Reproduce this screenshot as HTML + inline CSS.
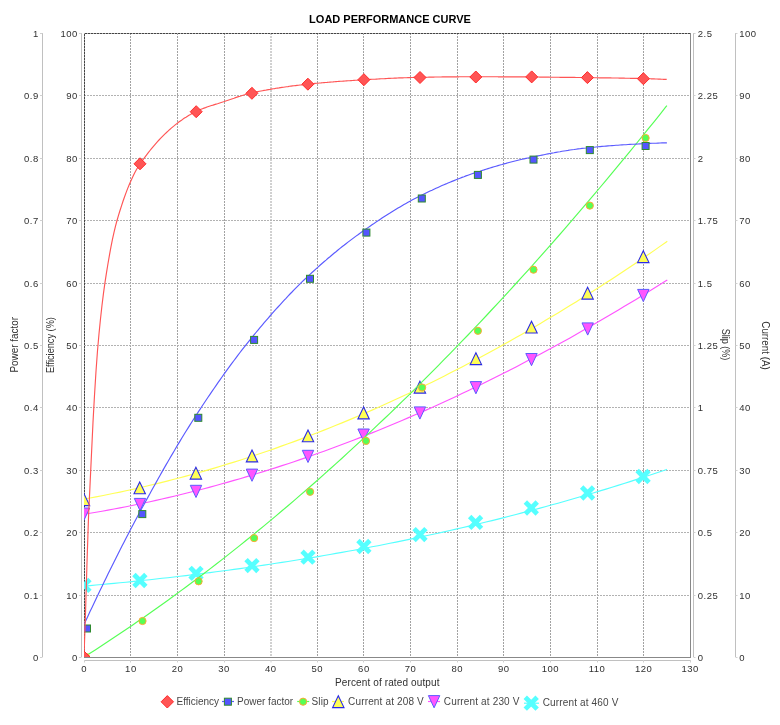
<!DOCTYPE html>
<html><head><meta charset="utf-8"><style>
html,body{margin:0;padding:0;background:#fff;}
svg{display:block;font-family:"Liberation Sans",sans-serif;will-change:transform;}
</style></head><body>
<svg width="780" height="725" viewBox="0 0 780 725">
<rect width="780" height="725" fill="#fff"/>
<text x="390" y="23" text-anchor="middle" font-size="11" font-weight="bold" fill="#000">LOAD PERFORMANCE CURVE</text>
<rect x="84.5" y="33.5" width="606" height="624" fill="#fff" stroke="#888" stroke-width="1"/>
<path d="M84.5,33 L84.5,657 M130.5,33 L130.5,657 M177.5,33 L177.5,657 M224.5,33 L224.5,657 M271.0,33 L271.0,657 M317.5,33 L317.5,657 M363.5,33 L363.5,657 M410.5,33 L410.5,657 M457.5,33 L457.5,657 M503.5,33 L503.5,657 M550.5,33 L550.5,657 M597.5,33 L597.5,657 M643.5,33 L643.5,657" stroke="#a2a2a2" stroke-width="1" stroke-dasharray="2,1" fill="none"/>
<path d="M84,595.5 L690,595.5 M84,532.5 L690,532.5 M84,470.5 L690,470.5 M84,407.5 L690,407.5 M84,345.5 L690,345.5 M84,283.5 L690,283.5 M84,220.5 L690,220.5 M84,158.5 L690,158.5 M84,95.5 L690,95.5 M84,33.5 L690,33.5" stroke="#b2b2b2" stroke-width="1" stroke-dasharray="2,1" fill="none"/>
<path d="M84.5,657 L84.5,33.5 L690,33.5" stroke="#444" stroke-width="1" stroke-dasharray="2,1" fill="none"/>
<defs><clipPath id="pc"><rect x="84" y="33" width="606" height="624"/></clipPath></defs>
<g clip-path="url(#pc)">
<path d="M84.0,586.1 90.0,585.6 96.0,585.0 102.0,584.5 108.0,583.9 114.0,583.4 120.0,582.8 126.0,582.2 132.0,581.6 138.0,580.9 144.0,580.3 150.0,579.7 156.0,579.0 162.0,578.3 168.0,577.7 174.0,577.0 180.0,576.3 186.0,575.6 192.0,574.8 198.0,574.1 204.0,573.3 210.0,572.6 216.0,571.8 222.0,571.0 228.0,570.2 234.0,569.4 240.0,568.6 246.0,567.7 252.0,566.9 258.0,566.0 264.0,565.1 270.0,564.2 276.0,563.3 282.0,562.4 288.0,561.5 294.0,560.5 300.0,559.5 306.0,558.6 312.0,557.6 318.0,556.6 324.0,555.5 330.0,554.5 336.0,553.4 342.0,552.4 348.0,551.3 354.0,550.2 360.0,549.1 366.0,548.0 372.0,546.8 378.0,545.7 384.0,544.5 390.0,543.3 396.0,542.1 402.0,540.9 408.0,539.6 414.0,538.4 420.0,537.1 426.0,535.8 432.0,534.5 438.0,533.2 444.0,531.9 450.0,530.5 456.0,529.1 462.0,527.8 468.0,526.4 474.0,524.9 480.0,523.5 486.0,522.0 492.0,520.6 498.0,519.1 504.0,517.6 510.0,516.0 516.0,514.5 522.0,512.9 528.0,511.3 534.0,509.7 540.0,508.1 546.0,506.5 552.0,504.8 558.0,503.2 564.0,501.5 570.0,499.8 576.0,498.0 582.0,496.3 588.0,494.5 594.0,492.7 600.0,490.9 606.0,489.1 612.0,487.2 618.0,485.4 624.0,483.5 630.0,481.6 636.0,479.6 642.0,477.7 648.0,475.7 654.0,473.7 660.0,471.7 666.0,469.7 666.9,469.4" stroke="#55ffff" fill="none" stroke-width="1.15" stroke-linejoin="round"/>
<path d="M78.05,579.45 L89.95,591.35 M78.05,591.35 L89.95,579.45" stroke="#55ffff" stroke-width="4.80" fill="none" stroke-linecap="butt"/>
<path d="M133.95,574.55 L145.85,586.45 M133.95,586.45 L145.85,574.55" stroke="#55ffff" stroke-width="4.80" fill="none" stroke-linecap="butt"/>
<path d="M190.05,567.35 L201.95,579.25 M190.05,579.25 L201.95,567.35" stroke="#55ffff" stroke-width="4.80" fill="none" stroke-linecap="butt"/>
<path d="M246.05,559.65 L257.95,571.55 M246.05,571.55 L257.95,559.65" stroke="#55ffff" stroke-width="4.80" fill="none" stroke-linecap="butt"/>
<path d="M302.05,551.25 L313.95,563.15 M302.05,563.15 L313.95,551.25" stroke="#55ffff" stroke-width="4.80" fill="none" stroke-linecap="butt"/>
<path d="M357.95,540.55 L369.85,552.45 M357.95,552.45 L369.85,540.55" stroke="#55ffff" stroke-width="4.80" fill="none" stroke-linecap="butt"/>
<path d="M414.05,528.65 L425.95,540.55 M414.05,540.55 L425.95,528.65" stroke="#55ffff" stroke-width="4.80" fill="none" stroke-linecap="butt"/>
<path d="M469.65,516.45 L481.55,528.35 M469.65,528.35 L481.55,516.45" stroke="#55ffff" stroke-width="4.80" fill="none" stroke-linecap="butt"/>
<path d="M525.35,502.05 L537.25,513.95 M525.35,513.95 L537.25,502.05" stroke="#55ffff" stroke-width="4.80" fill="none" stroke-linecap="butt"/>
<path d="M581.65,487.05 L593.55,498.95 M581.65,498.95 L593.55,487.05" stroke="#55ffff" stroke-width="4.80" fill="none" stroke-linecap="butt"/>
<path d="M637.15,470.55 L649.05,482.45 M637.15,482.45 L649.05,470.55" stroke="#55ffff" stroke-width="4.80" fill="none" stroke-linecap="butt"/>
<path d="M84.0,514.3 90.0,513.3 96.0,512.3 102.0,511.2 108.0,510.1 114.0,509.0 120.0,507.9 126.0,506.7 132.0,505.5 138.0,504.3 144.0,503.0 150.0,501.7 156.0,500.4 162.0,499.0 168.0,497.6 174.0,496.2 180.0,494.8 186.0,493.3 192.0,491.8 198.0,490.2 204.0,488.7 210.0,487.1 216.0,485.5 222.0,483.8 228.0,482.1 234.0,480.4 240.0,478.7 246.0,476.9 252.0,475.1 258.0,473.3 264.0,471.4 270.0,469.5 276.0,467.6 282.0,465.6 288.0,463.7 294.0,461.7 300.0,459.6 306.0,457.6 312.0,455.5 318.0,453.3 324.0,451.2 330.0,449.0 336.0,446.8 342.0,444.5 348.0,442.3 354.0,440.0 360.0,437.6 366.0,435.3 372.0,432.9 378.0,430.5 384.0,428.0 390.0,425.5 396.0,423.0 402.0,420.5 408.0,417.9 414.0,415.3 420.0,412.7 426.0,410.1 432.0,407.4 438.0,404.7 444.0,402.0 450.0,399.2 456.0,396.4 462.0,393.6 468.0,390.7 474.0,387.8 480.0,384.9 486.0,382.0 492.0,379.0 498.0,376.0 504.0,373.0 510.0,370.0 516.0,366.9 522.0,363.8 528.0,360.6 534.0,357.5 540.0,354.3 546.0,351.1 552.0,347.8 558.0,344.5 564.0,341.2 570.0,337.9 576.0,334.5 582.0,331.1 588.0,327.7 594.0,324.3 600.0,320.8 606.0,317.3 612.0,313.8 618.0,310.2 624.0,306.6 630.0,303.0 636.0,299.4 642.0,295.7 648.0,292.0 654.0,288.3 660.0,284.5 666.0,280.7 667.3,279.9" stroke="#ff55ff" fill="none" stroke-width="1.15" stroke-linejoin="round"/>
<path d="M78.30,508.00 L89.70,508.00 L84.00,520.20 Z" fill="#ff55ff" stroke="#5c5cff" stroke-width="1"/>
<path d="M134.30,498.40 L145.70,498.40 L140.00,510.60 Z" fill="#ff55ff" stroke="#5c5cff" stroke-width="1"/>
<path d="M190.30,485.30 L201.70,485.30 L196.00,497.50 Z" fill="#ff55ff" stroke="#5c5cff" stroke-width="1"/>
<path d="M246.30,469.10 L257.70,469.10 L252.00,481.30 Z" fill="#ff55ff" stroke="#5c5cff" stroke-width="1"/>
<path d="M302.30,450.30 L313.70,450.30 L308.00,462.50 Z" fill="#ff55ff" stroke="#5c5cff" stroke-width="1"/>
<path d="M357.90,429.00 L369.30,429.00 L363.60,441.20 Z" fill="#ff55ff" stroke="#5c5cff" stroke-width="1"/>
<path d="M414.20,406.90 L425.60,406.90 L419.90,419.10 Z" fill="#ff55ff" stroke="#5c5cff" stroke-width="1"/>
<path d="M470.20,381.60 L481.60,381.60 L475.90,393.80 Z" fill="#ff55ff" stroke="#5c5cff" stroke-width="1"/>
<path d="M525.80,353.50 L537.20,353.50 L531.50,365.70 Z" fill="#ff55ff" stroke="#5c5cff" stroke-width="1"/>
<path d="M582.00,322.90 L593.40,322.90 L587.70,335.10 Z" fill="#ff55ff" stroke="#5c5cff" stroke-width="1"/>
<path d="M637.60,289.40 L649.00,289.40 L643.30,301.60 Z" fill="#ff55ff" stroke="#5c5cff" stroke-width="1"/>
<path d="M84.0,499.1 90.0,498.0 96.0,496.9 102.0,495.7 108.0,494.5 114.0,493.3 120.0,492.1 126.0,490.8 132.0,489.5 138.0,488.1 144.0,486.7 150.0,485.3 156.0,483.9 162.0,482.4 168.0,480.9 174.0,479.3 180.0,477.7 186.0,476.1 192.0,474.5 198.0,472.8 204.0,471.1 210.0,469.4 216.0,467.6 222.0,465.8 228.0,463.9 234.0,462.1 240.0,460.2 246.0,458.2 252.0,456.3 258.0,454.3 264.0,452.2 270.0,450.2 276.0,448.1 282.0,445.9 288.0,443.8 294.0,441.6 300.0,439.4 306.0,437.1 312.0,434.8 318.0,432.5 324.0,430.1 330.0,427.7 336.0,425.3 342.0,422.9 348.0,420.4 354.0,417.9 360.0,415.3 366.0,412.7 372.0,410.1 378.0,407.5 384.0,404.8 390.0,402.1 396.0,399.3 402.0,396.5 408.0,393.7 414.0,390.9 420.0,388.0 426.0,385.1 432.0,382.2 438.0,379.2 444.0,376.2 450.0,373.1 456.0,370.1 462.0,367.0 468.0,363.8 474.0,360.7 480.0,357.5 486.0,354.2 492.0,351.0 498.0,347.7 504.0,344.3 510.0,341.0 516.0,337.6 522.0,334.2 528.0,330.7 534.0,327.2 540.0,323.7 546.0,320.1 552.0,316.5 558.0,312.9 564.0,309.3 570.0,305.6 576.0,301.9 582.0,298.1 588.0,294.3 594.0,290.5 600.0,286.7 606.0,282.8 612.0,278.9 618.0,274.9 624.0,270.9 630.0,266.9 636.0,262.9 642.0,258.8 648.0,254.7 654.0,250.6 660.0,246.4 666.0,242.2 667.3,241.3" stroke="#ffff55" fill="none" stroke-width="1.15" stroke-linejoin="round"/>
<path d="M84.00,493.80 L89.70,505.60 L78.30,505.60 Z" fill="#ffff55" stroke="#2a2ae6" stroke-width="1.1" stroke-linejoin="miter"/>
<path d="M139.70,482.00 L145.40,493.80 L134.00,493.80 Z" fill="#ffff55" stroke="#2a2ae6" stroke-width="1.1" stroke-linejoin="miter"/>
<path d="M195.90,467.30 L201.60,479.10 L190.20,479.10 Z" fill="#ffff55" stroke="#2a2ae6" stroke-width="1.1" stroke-linejoin="miter"/>
<path d="M252.00,450.10 L257.70,461.90 L246.30,461.90 Z" fill="#ffff55" stroke="#2a2ae6" stroke-width="1.1" stroke-linejoin="miter"/>
<path d="M308.00,430.00 L313.70,441.80 L302.30,441.80 Z" fill="#ffff55" stroke="#2a2ae6" stroke-width="1.1" stroke-linejoin="miter"/>
<path d="M363.60,407.10 L369.30,418.90 L357.90,418.90 Z" fill="#ffff55" stroke="#2a2ae6" stroke-width="1.1" stroke-linejoin="miter"/>
<path d="M419.90,381.30 L425.60,393.10 L414.20,393.10 Z" fill="#ffff55" stroke="#2a2ae6" stroke-width="1.1" stroke-linejoin="miter"/>
<path d="M475.90,352.80 L481.60,364.60 L470.20,364.60 Z" fill="#ffff55" stroke="#2a2ae6" stroke-width="1.1" stroke-linejoin="miter"/>
<path d="M531.50,321.20 L537.20,333.00 L525.80,333.00 Z" fill="#ffff55" stroke="#2a2ae6" stroke-width="1.1" stroke-linejoin="miter"/>
<path d="M587.60,287.30 L593.30,299.10 L581.90,299.10 Z" fill="#ffff55" stroke="#2a2ae6" stroke-width="1.1" stroke-linejoin="miter"/>
<path d="M643.30,250.80 L649.00,262.60 L637.60,262.60 Z" fill="#ffff55" stroke="#2a2ae6" stroke-width="1.1" stroke-linejoin="miter"/>
<path d="M84.0,657.0 90.0,653.2 96.0,649.4 102.0,645.5 108.0,641.5 114.0,637.6 120.0,633.6 126.0,629.5 132.0,625.5 138.0,621.3 144.0,617.2 150.0,613.0 156.0,608.7 162.0,604.5 168.0,600.2 174.0,595.8 180.0,591.4 186.0,587.0 192.0,582.5 198.0,578.0 204.0,573.5 210.0,568.9 216.0,564.3 222.0,559.6 228.0,554.9 234.0,550.1 240.0,545.4 246.0,540.5 252.0,535.7 258.0,530.8 264.0,525.9 270.0,520.9 276.0,515.9 282.0,510.8 288.0,505.7 294.0,500.6 300.0,495.4 306.0,490.2 312.0,485.0 318.0,479.7 324.0,474.4 330.0,469.0 336.0,463.6 342.0,458.2 348.0,452.7 354.0,447.2 360.0,441.6 366.0,436.0 372.0,430.4 378.0,424.7 384.0,419.0 390.0,413.3 396.0,407.5 402.0,401.6 408.0,395.8 414.0,389.9 420.0,383.9 426.0,377.9 432.0,371.9 438.0,365.8 444.0,359.7 450.0,353.6 456.0,347.4 462.0,341.2 468.0,335.0 474.0,328.7 480.0,322.3 486.0,316.0 492.0,309.5 498.0,303.1 504.0,296.6 510.0,290.1 516.0,283.5 522.0,276.9 528.0,270.3 534.0,263.6 540.0,256.9 546.0,250.1 552.0,243.3 558.0,236.5 564.0,229.6 570.0,222.7 576.0,215.7 582.0,208.7 588.0,201.7 594.0,194.6 600.0,187.5 606.0,180.4 612.0,173.2 618.0,165.9 624.0,158.7 630.0,151.4 636.0,144.0 642.0,136.6 648.0,129.2 654.0,121.8 660.0,114.3 666.0,106.7 666.9,105.6" stroke="#55ff55" fill="none" stroke-width="1.15" stroke-linejoin="round"/>
<circle cx="86.00" cy="657.00" r="3.60" fill="#55ff55" stroke="#ffaa33" stroke-width="1"/>
<circle cx="142.50" cy="621.00" r="3.60" fill="#55ff55" stroke="#ffaa33" stroke-width="1"/>
<circle cx="198.60" cy="581.30" r="3.60" fill="#55ff55" stroke="#ffaa33" stroke-width="1"/>
<circle cx="254.10" cy="538.10" r="3.60" fill="#55ff55" stroke="#ffaa33" stroke-width="1"/>
<circle cx="310.10" cy="491.80" r="3.60" fill="#55ff55" stroke="#ffaa33" stroke-width="1"/>
<circle cx="366.00" cy="440.90" r="3.60" fill="#55ff55" stroke="#ffaa33" stroke-width="1"/>
<circle cx="422.10" cy="387.50" r="3.60" fill="#55ff55" stroke="#ffaa33" stroke-width="1"/>
<circle cx="477.90" cy="330.80" r="3.60" fill="#55ff55" stroke="#ffaa33" stroke-width="1"/>
<circle cx="533.50" cy="269.70" r="3.60" fill="#55ff55" stroke="#ffaa33" stroke-width="1"/>
<circle cx="589.80" cy="205.60" r="3.60" fill="#55ff55" stroke="#ffaa33" stroke-width="1"/>
<circle cx="645.60" cy="138.00" r="3.60" fill="#55ff55" stroke="#ffaa33" stroke-width="1"/>
<path d="M84.0,624.5 86.0,620.2 88.0,615.9 90.0,611.6 92.0,607.4 94.0,603.2 96.0,598.9 98.0,594.8 100.0,590.6 102.0,586.4 104.0,582.3 106.0,578.2 108.0,574.1 110.0,570.1 112.0,566.0 114.0,562.0 116.0,558.0 118.0,554.0 120.0,550.1 122.0,546.1 124.0,542.2 126.0,538.3 128.0,534.5 130.0,530.6 132.0,526.8 134.0,523.0 136.0,519.3 138.0,515.5 140.0,511.8 142.0,508.1 144.0,504.4 146.0,500.7 148.0,497.1 150.0,493.4 152.0,489.8 154.0,486.2 156.0,482.6 158.0,479.0 160.0,475.5 162.0,471.9 164.0,468.4 166.0,464.9 168.0,461.5 170.0,458.0 172.0,454.6 174.0,451.2 176.0,447.8 178.0,444.4 180.0,441.1 182.0,437.8 184.0,434.5 186.0,431.3 188.0,428.1 190.0,424.9 192.0,421.7 194.0,418.6 196.0,415.5 198.0,412.4 200.0,409.4 202.0,406.3 204.0,403.3 206.0,400.3 208.0,397.3 210.0,394.4 212.0,391.4 214.0,388.5 216.0,385.6 218.0,382.7 220.0,379.9 222.0,377.0 224.0,374.2 226.0,371.4 228.0,368.7 230.0,365.9 232.0,363.2 234.0,360.5 236.0,357.8 238.0,355.2 240.0,352.5 242.0,349.9 244.0,347.4 246.0,344.8 248.0,342.3 250.0,339.8 252.0,337.4 254.0,334.9 256.0,332.5 258.0,330.1 260.0,327.7 262.0,325.3 264.0,322.9 266.0,320.6 268.0,318.3 270.0,316.0 272.0,313.7 274.0,311.4 276.0,309.2 278.0,307.0 280.0,304.8 282.0,302.6 284.0,300.4 286.0,298.3 288.0,296.1 290.0,294.0 292.0,292.0 294.0,289.9 296.0,287.9 298.0,285.9 300.0,283.9 302.0,281.9 304.0,280.0 306.0,278.1 308.0,276.2 310.0,274.4 312.0,272.5 314.0,270.7 316.0,268.9 318.0,267.1 320.0,265.3 322.0,263.5 324.0,261.8 326.0,260.1 328.0,258.3 330.0,256.7 332.0,255.0 334.0,253.3 336.0,251.7 338.0,250.0 340.0,248.4 342.0,246.8 344.0,245.3 346.0,243.7 348.0,242.1 350.0,240.6 352.0,239.1 354.0,237.6 356.0,236.1 358.0,234.7 360.0,233.2 362.0,231.8 364.0,230.4 366.0,229.0 368.0,227.6 370.0,226.2 372.0,224.8 374.0,223.5 376.0,222.1 378.0,220.8 380.0,219.4 382.0,218.1 384.0,216.8 386.0,215.5 388.0,214.2 390.0,213.0 392.0,211.7 394.0,210.5 396.0,209.3 398.0,208.1 400.0,206.9 402.0,205.7 404.0,204.5 406.0,203.4 408.0,202.3 410.0,201.2 412.0,200.1 414.0,199.0 416.0,198.0 418.0,197.0 420.0,196.0 422.0,195.0 424.0,194.0 426.0,193.0 428.0,192.0 430.0,191.1 432.0,190.2 434.0,189.2 436.0,188.3 438.0,187.4 440.0,186.5 442.0,185.6 444.0,184.7 446.0,183.9 448.0,183.0 450.0,182.2 452.0,181.4 454.0,180.6 456.0,179.8 458.0,179.0 460.0,178.2 462.0,177.4 464.0,176.7 466.0,175.9 468.0,175.2 470.0,174.5 472.0,173.8 474.0,173.1 476.0,172.5 478.0,171.8 480.0,171.2 482.0,170.5 484.0,169.9 486.0,169.2 488.0,168.6 490.0,168.0 492.0,167.4 494.0,166.8 496.0,166.2 498.0,165.6 500.0,165.0 502.0,164.5 504.0,163.9 506.0,163.4 508.0,162.8 510.0,162.3 512.0,161.8 514.0,161.3 516.0,160.8 518.0,160.3 520.0,159.8 522.0,159.3 524.0,158.9 526.0,158.4 528.0,158.0 530.0,157.6 532.0,157.1 534.0,156.7 536.0,156.3 538.0,155.9 540.0,155.5 542.0,155.1 544.0,154.7 546.0,154.3 548.0,153.9 550.0,153.5 552.0,153.1 554.0,152.8 556.0,152.4 558.0,152.0 560.0,151.7 562.0,151.3 564.0,151.0 566.0,150.7 568.0,150.4 570.0,150.0 572.0,149.7 574.0,149.5 576.0,149.2 578.0,148.9 580.0,148.7 582.0,148.4 584.0,148.2 586.0,148.0 588.0,147.7 590.0,147.5 592.0,147.4 594.0,147.2 596.0,147.0 598.0,146.8 600.0,146.6 602.0,146.4 604.0,146.3 606.0,146.1 608.0,145.9 610.0,145.8 612.0,145.6 614.0,145.5 616.0,145.3 618.0,145.2 620.0,145.0 622.0,144.9 624.0,144.8 626.0,144.7 628.0,144.5 630.0,144.4 632.0,144.3 634.0,144.2 636.0,144.1 638.0,144.0 640.0,143.9 642.0,143.8 644.0,143.7 646.0,143.6 648.0,143.5 650.0,143.4 652.0,143.3 654.0,143.2 656.0,143.2 658.0,143.1 660.0,143.0 662.0,142.9 664.0,142.9 666.0,142.8 666.9,142.8" stroke="#5a5aff" fill="none" stroke-width="1.15" stroke-linejoin="round"/>
<rect x="83.50" y="625.00" width="7.00" height="7.00" fill="#5555ff" stroke="#2f8a2f" stroke-width="1"/>
<rect x="138.80" y="510.60" width="7.00" height="7.00" fill="#5555ff" stroke="#2f8a2f" stroke-width="1"/>
<rect x="194.80" y="414.30" width="7.00" height="7.00" fill="#5555ff" stroke="#2f8a2f" stroke-width="1"/>
<rect x="250.60" y="336.40" width="7.00" height="7.00" fill="#5555ff" stroke="#2f8a2f" stroke-width="1"/>
<rect x="306.50" y="275.30" width="7.00" height="7.00" fill="#5555ff" stroke="#2f8a2f" stroke-width="1"/>
<rect x="362.90" y="229.10" width="7.00" height="7.00" fill="#5555ff" stroke="#2f8a2f" stroke-width="1"/>
<rect x="418.30" y="195.00" width="7.00" height="7.00" fill="#5555ff" stroke="#2f8a2f" stroke-width="1"/>
<rect x="474.40" y="171.40" width="7.00" height="7.00" fill="#5555ff" stroke="#2f8a2f" stroke-width="1"/>
<rect x="530.00" y="156.10" width="7.00" height="7.00" fill="#5555ff" stroke="#2f8a2f" stroke-width="1"/>
<rect x="586.30" y="146.60" width="7.00" height="7.00" fill="#5555ff" stroke="#2f8a2f" stroke-width="1"/>
<rect x="642.10" y="142.50" width="7.00" height="7.00" fill="#5555ff" stroke="#2f8a2f" stroke-width="1"/>
<path d="M84.0,657.0 85.5,613.3 87.0,562.6 88.5,517.4 90.0,485.4 91.5,453.8 93.0,422.2 94.5,395.2 96.0,371.3 97.5,350.8 99.0,333.8 100.5,318.7 102.0,305.2 103.5,293.1 105.0,282.4 106.5,272.7 108.0,263.5 109.5,254.8 111.0,246.7 112.5,239.2 114.0,232.3 115.5,226.1 117.0,220.5 118.5,215.4 120.0,210.5 121.5,205.8 123.0,201.3 124.5,197.0 126.0,192.9 127.5,188.9 129.0,185.2 130.5,181.7 132.0,178.4 133.5,175.2 135.0,172.3 136.5,169.5 138.0,167.0 139.5,164.7 141.0,162.5 142.5,160.4 144.0,158.3 145.5,156.3 147.0,154.3 148.5,152.4 150.0,150.5 151.5,148.6 153.0,146.8 154.5,145.1 156.0,143.4 157.5,141.7 159.0,140.0 160.5,138.4 162.0,136.9 163.5,135.4 165.0,133.9 166.5,132.5 168.0,131.1 169.5,129.7 171.0,128.4 172.5,127.1 174.0,125.9 175.5,124.6 177.0,123.5 178.5,122.3 180.0,121.2 181.5,120.2 183.0,119.1 184.5,118.1 186.0,117.2 187.5,116.2 189.0,115.3 190.5,114.5 192.0,113.6 193.5,112.8 195.0,112.1 196.5,111.3 198.0,110.6 199.5,109.9 201.0,109.3 202.5,108.7 204.0,108.1 205.5,107.6 207.0,107.0 208.5,106.5 210.0,106.0 211.5,105.5 213.0,105.1 214.5,104.6 216.0,104.1 217.5,103.7 219.0,103.2 220.5,102.7 222.0,102.2 223.5,101.8 225.0,101.3 226.5,100.7 228.0,100.2 229.5,99.7 231.0,99.2 232.5,98.7 234.0,98.2 235.5,97.6 237.0,97.1 238.5,96.6 240.0,96.2 241.5,95.7 243.0,95.2 244.5,94.8 246.0,94.3 247.5,93.9 249.0,93.6 250.5,93.2 252.0,92.9 253.5,92.5 255.0,92.2 256.5,91.9 258.0,91.6 259.5,91.3 261.0,91.0 262.5,90.7 264.0,90.4 265.5,90.2 267.0,89.9 268.5,89.6 270.0,89.4 271.5,89.1 273.0,88.8 274.5,88.6 276.0,88.3 277.5,88.1 279.0,87.9 280.5,87.6 282.0,87.4 283.5,87.2 285.0,87.0 286.5,86.8 288.0,86.6 289.5,86.3 291.0,86.1 292.5,85.9 294.0,85.8 295.5,85.6 297.0,85.4 298.5,85.2 300.0,85.0 301.5,84.9 303.0,84.7 304.5,84.5 306.0,84.4 307.5,84.2 309.0,84.0 310.5,83.9 312.0,83.7 313.5,83.6 315.0,83.4 316.5,83.3 318.0,83.2 319.5,83.0 321.0,82.9 322.5,82.7 324.0,82.6 325.5,82.5 327.0,82.4 328.5,82.2 330.0,82.1 331.5,82.0 333.0,81.9 334.5,81.7 336.0,81.6 337.5,81.5 339.0,81.4 340.5,81.3 342.0,81.2 343.5,81.1 345.0,81.0 346.5,80.9 348.0,80.8 349.5,80.7 351.0,80.6 352.5,80.5 354.0,80.4 355.5,80.3 357.0,80.2 358.5,80.1 360.0,80.0 361.5,79.9 363.0,79.8 364.5,79.8 366.0,79.7 367.5,79.6 369.0,79.5 370.5,79.4 372.0,79.3 373.5,79.2 375.0,79.2 376.5,79.1 378.0,79.0 379.5,78.9 381.0,78.8 382.5,78.7 384.0,78.7 385.5,78.6 387.0,78.5 388.5,78.4 390.0,78.4 391.5,78.3 393.0,78.2 394.5,78.1 396.0,78.1 397.5,78.0 399.0,77.9 400.5,77.9 402.0,77.8 403.5,77.8 405.0,77.7 406.5,77.7 408.0,77.6 409.5,77.6 411.0,77.5 412.5,77.5 414.0,77.4 415.5,77.4 417.0,77.4 418.5,77.3 420.0,77.3 421.5,77.3 423.0,77.2 424.5,77.2 426.0,77.2 427.5,77.2 429.0,77.1 430.5,77.1 432.0,77.1 433.5,77.1 435.0,77.0 436.5,77.0 438.0,77.0 439.5,77.0 441.0,77.0 442.5,76.9 444.0,76.9 445.5,76.9 447.0,76.9 448.5,76.9 450.0,76.8 451.5,76.8 453.0,76.8 454.5,76.8 456.0,76.8 457.5,76.8 459.0,76.8 460.5,76.7 462.0,76.7 463.5,76.7 465.0,76.7 466.5,76.7 468.0,76.7 469.5,76.7 471.0,76.7 472.5,76.7 474.0,76.7 475.5,76.7 477.0,76.7 478.5,76.7 480.0,76.7 481.5,76.7 483.0,76.7 484.5,76.7 486.0,76.7 487.5,76.7 489.0,76.7 490.5,76.7 492.0,76.7 493.5,76.7 495.0,76.7 496.5,76.7 498.0,76.8 499.5,76.8 501.0,76.8 502.5,76.8 504.0,76.8 505.5,76.8 507.0,76.8 508.5,76.8 510.0,76.8 511.5,76.8 513.0,76.9 514.5,76.9 516.0,76.9 517.5,76.9 519.0,76.9 520.5,76.9 522.0,76.9 523.5,76.9 525.0,76.9 526.5,77.0 528.0,77.0 529.5,77.0 531.0,77.0 532.5,77.0 534.0,77.0 535.5,77.0 537.0,77.0 538.5,77.0 540.0,77.1 541.5,77.1 543.0,77.1 544.5,77.1 546.0,77.1 547.5,77.1 549.0,77.1 550.5,77.2 552.0,77.2 553.5,77.2 555.0,77.2 556.5,77.2 558.0,77.2 559.5,77.3 561.0,77.3 562.5,77.3 564.0,77.3 565.5,77.3 567.0,77.4 568.5,77.4 570.0,77.4 571.5,77.4 573.0,77.4 574.5,77.4 576.0,77.5 577.5,77.5 579.0,77.5 580.5,77.5 582.0,77.5 583.5,77.6 585.0,77.6 586.5,77.6 588.0,77.6 589.5,77.6 591.0,77.7 592.5,77.7 594.0,77.7 595.5,77.7 597.0,77.7 598.5,77.8 600.0,77.8 601.5,77.8 603.0,77.8 604.5,77.8 606.0,77.9 607.5,77.9 609.0,77.9 610.5,77.9 612.0,78.0 613.5,78.0 615.0,78.0 616.5,78.0 618.0,78.0 619.5,78.1 621.0,78.1 622.5,78.1 624.0,78.1 625.5,78.2 627.0,78.2 628.5,78.2 630.0,78.3 631.5,78.3 633.0,78.3 634.5,78.4 636.0,78.4 637.5,78.4 639.0,78.4 640.5,78.5 642.0,78.5 643.5,78.6 645.0,78.6 646.5,78.6 648.0,78.7 649.5,78.7 651.0,78.8 652.5,78.8 654.0,78.9 655.5,79.0 657.0,79.0 658.5,79.1 660.0,79.1 661.5,79.2 663.0,79.3 664.5,79.3 666.0,79.4 666.7,79.4" stroke="#ff5555" fill="none" stroke-width="1.15" stroke-linejoin="round"/>
<path d="M84.00,651.00 L90.00,657.00 L84.00,663.00 L78.00,657.00 Z" fill="#ff5555" stroke="#ff2a2a" stroke-width="1" />
<path d="M140.00,157.80 L146.00,163.80 L140.00,169.80 L134.00,163.80 Z" fill="#ff5555" stroke="#ff2a2a" stroke-width="1" />
<path d="M196.20,105.70 L202.20,111.70 L196.20,117.70 L190.20,111.70 Z" fill="#ff5555" stroke="#ff2a2a" stroke-width="1" />
<path d="M251.90,87.30 L257.90,93.30 L251.90,99.30 L245.90,93.30 Z" fill="#ff5555" stroke="#ff2a2a" stroke-width="1" />
<path d="M307.90,78.20 L313.90,84.20 L307.90,90.20 L301.90,84.20 Z" fill="#ff5555" stroke="#ff2a2a" stroke-width="1" />
<path d="M363.90,73.70 L369.90,79.70 L363.90,85.70 L357.90,79.70 Z" fill="#ff5555" stroke="#ff2a2a" stroke-width="1" />
<path d="M420.00,71.50 L426.00,77.50 L420.00,83.50 L414.00,77.50 Z" fill="#ff5555" stroke="#ff2a2a" stroke-width="1" />
<path d="M475.80,71.00 L481.80,77.00 L475.80,83.00 L469.80,77.00 Z" fill="#ff5555" stroke="#ff2a2a" stroke-width="1" />
<path d="M531.70,70.90 L537.70,76.90 L531.70,82.90 L525.70,76.90 Z" fill="#ff5555" stroke="#ff2a2a" stroke-width="1" />
<path d="M587.40,71.60 L593.40,77.60 L587.40,83.60 L581.40,77.60 Z" fill="#ff5555" stroke="#ff2a2a" stroke-width="1" />
<path d="M643.40,72.70 L649.40,78.70 L643.40,84.70 L637.40,78.70 Z" fill="#ff5555" stroke="#ff2a2a" stroke-width="1" />
</g>
<path d="M84,660.5 L690,660.5" stroke="#c0c0c0" stroke-width="1"/>
<path d="M84.5,660 L84.5,662.5 M130.5,660 L130.5,662.5 M177.5,660 L177.5,662.5 M224.5,660 L224.5,662.5 M271.0,660 L271.0,662.5 M317.5,660 L317.5,662.5 M363.5,660 L363.5,662.5 M410.5,660 L410.5,662.5 M457.5,660 L457.5,662.5 M503.5,660 L503.5,662.5 M550.5,660 L550.5,662.5 M597.5,660 L597.5,662.5 M643.5,660 L643.5,662.5 M690.5,660 L690.5,662.5" stroke="#d0d0d0" stroke-width="1"/>
<text x="84.2" y="672.1" text-anchor="middle" font-size="9.5" letter-spacing="0.5" fill="#303030">0</text>
<text x="130.9" y="672.1" text-anchor="middle" font-size="9.5" letter-spacing="0.5" fill="#303030">10</text>
<text x="177.5" y="672.1" text-anchor="middle" font-size="9.5" letter-spacing="0.5" fill="#303030">20</text>
<text x="224.1" y="672.1" text-anchor="middle" font-size="9.5" letter-spacing="0.5" fill="#303030">30</text>
<text x="270.7" y="672.1" text-anchor="middle" font-size="9.5" letter-spacing="0.5" fill="#303030">40</text>
<text x="317.3" y="672.1" text-anchor="middle" font-size="9.5" letter-spacing="0.5" fill="#303030">50</text>
<text x="363.9" y="672.1" text-anchor="middle" font-size="9.5" letter-spacing="0.5" fill="#303030">60</text>
<text x="410.6" y="672.1" text-anchor="middle" font-size="9.5" letter-spacing="0.5" fill="#303030">70</text>
<text x="457.2" y="672.1" text-anchor="middle" font-size="9.5" letter-spacing="0.5" fill="#303030">80</text>
<text x="503.8" y="672.1" text-anchor="middle" font-size="9.5" letter-spacing="0.5" fill="#303030">90</text>
<text x="550.4" y="672.1" text-anchor="middle" font-size="9.5" letter-spacing="0.5" fill="#303030">100</text>
<text x="597.0" y="672.1" text-anchor="middle" font-size="9.5" letter-spacing="0.5" fill="#303030">110</text>
<text x="643.6" y="672.1" text-anchor="middle" font-size="9.5" letter-spacing="0.5" fill="#303030">120</text>
<text x="690.2" y="672.1" text-anchor="middle" font-size="9.5" letter-spacing="0.5" fill="#303030">130</text>
<text x="387.3" y="685.5" text-anchor="middle" font-size="10" letter-spacing="0.12" fill="#303030">Percent of rated output</text>
<path d="M42.5,33 L42.5,657" stroke="#c0c0c0" stroke-width="1"/>
<text x="38.8" y="660.9" text-anchor="end" font-size="9.5" letter-spacing="0.5" fill="#303030">0</text>
<text x="38.8" y="598.5" text-anchor="end" font-size="9.5" letter-spacing="0.5" fill="#303030">0.1</text>
<text x="38.8" y="536.1" text-anchor="end" font-size="9.5" letter-spacing="0.5" fill="#303030">0.2</text>
<text x="38.8" y="473.7" text-anchor="end" font-size="9.5" letter-spacing="0.5" fill="#303030">0.3</text>
<text x="38.8" y="411.3" text-anchor="end" font-size="9.5" letter-spacing="0.5" fill="#303030">0.4</text>
<text x="38.8" y="348.9" text-anchor="end" font-size="9.5" letter-spacing="0.5" fill="#303030">0.5</text>
<text x="38.8" y="286.5" text-anchor="end" font-size="9.5" letter-spacing="0.5" fill="#303030">0.6</text>
<text x="38.8" y="224.1" text-anchor="end" font-size="9.5" letter-spacing="0.5" fill="#303030">0.7</text>
<text x="38.8" y="161.7" text-anchor="end" font-size="9.5" letter-spacing="0.5" fill="#303030">0.8</text>
<text x="38.8" y="99.3" text-anchor="end" font-size="9.5" letter-spacing="0.5" fill="#303030">0.9</text>
<text x="38.8" y="36.9" text-anchor="end" font-size="9.5" letter-spacing="0.5" fill="#303030">1</text>
<path d="M40.0,657.5 L42.5,657.5 M40.0,595.5 L42.5,595.5 M40.0,532.5 L42.5,532.5 M40.0,470.5 L42.5,470.5 M40.0,407.5 L42.5,407.5 M40.0,345.5 L42.5,345.5 M40.0,283.5 L42.5,283.5 M40.0,220.5 L42.5,220.5 M40.0,158.5 L42.5,158.5 M40.0,95.5 L42.5,95.5 M40.0,33.5 L42.5,33.5" stroke="#d0d0d0" stroke-width="1"/>
<path d="M81.5,33 L81.5,657" stroke="#c0c0c0" stroke-width="1"/>
<text x="77.8" y="660.9" text-anchor="end" font-size="9.5" letter-spacing="0.5" fill="#303030">0</text>
<text x="77.8" y="598.5" text-anchor="end" font-size="9.5" letter-spacing="0.5" fill="#303030">10</text>
<text x="77.8" y="536.1" text-anchor="end" font-size="9.5" letter-spacing="0.5" fill="#303030">20</text>
<text x="77.8" y="473.7" text-anchor="end" font-size="9.5" letter-spacing="0.5" fill="#303030">30</text>
<text x="77.8" y="411.3" text-anchor="end" font-size="9.5" letter-spacing="0.5" fill="#303030">40</text>
<text x="77.8" y="348.9" text-anchor="end" font-size="9.5" letter-spacing="0.5" fill="#303030">50</text>
<text x="77.8" y="286.5" text-anchor="end" font-size="9.5" letter-spacing="0.5" fill="#303030">60</text>
<text x="77.8" y="224.1" text-anchor="end" font-size="9.5" letter-spacing="0.5" fill="#303030">70</text>
<text x="77.8" y="161.7" text-anchor="end" font-size="9.5" letter-spacing="0.5" fill="#303030">80</text>
<text x="77.8" y="99.3" text-anchor="end" font-size="9.5" letter-spacing="0.5" fill="#303030">90</text>
<text x="77.8" y="36.9" text-anchor="end" font-size="9.5" letter-spacing="0.5" fill="#303030">100</text>
<path d="M79.0,657.5 L81.5,657.5 M79.0,595.5 L81.5,595.5 M79.0,532.5 L81.5,532.5 M79.0,470.5 L81.5,470.5 M79.0,407.5 L81.5,407.5 M79.0,345.5 L81.5,345.5 M79.0,283.5 L81.5,283.5 M79.0,220.5 L81.5,220.5 M79.0,158.5 L81.5,158.5 M79.0,95.5 L81.5,95.5 M79.0,33.5 L81.5,33.5" stroke="#d0d0d0" stroke-width="1"/>
<path d="M693.5,33 L693.5,657" stroke="#c0c0c0" stroke-width="1"/>
<text x="697.8" y="660.9" text-anchor="start" font-size="9.5" letter-spacing="0.5" fill="#303030">0</text>
<text x="697.8" y="598.5" text-anchor="start" font-size="9.5" letter-spacing="0.5" fill="#303030">0.25</text>
<text x="697.8" y="536.1" text-anchor="start" font-size="9.5" letter-spacing="0.5" fill="#303030">0.5</text>
<text x="697.8" y="473.7" text-anchor="start" font-size="9.5" letter-spacing="0.5" fill="#303030">0.75</text>
<text x="697.8" y="411.3" text-anchor="start" font-size="9.5" letter-spacing="0.5" fill="#303030">1</text>
<text x="697.8" y="348.9" text-anchor="start" font-size="9.5" letter-spacing="0.5" fill="#303030">1.25</text>
<text x="697.8" y="286.5" text-anchor="start" font-size="9.5" letter-spacing="0.5" fill="#303030">1.5</text>
<text x="697.8" y="224.1" text-anchor="start" font-size="9.5" letter-spacing="0.5" fill="#303030">1.75</text>
<text x="697.8" y="161.7" text-anchor="start" font-size="9.5" letter-spacing="0.5" fill="#303030">2</text>
<text x="697.8" y="99.3" text-anchor="start" font-size="9.5" letter-spacing="0.5" fill="#303030">2.25</text>
<text x="697.8" y="36.9" text-anchor="start" font-size="9.5" letter-spacing="0.5" fill="#303030">2.5</text>
<path d="M693.5,657.5 L695.5,657.5 M693.5,595.5 L695.5,595.5 M693.5,532.5 L695.5,532.5 M693.5,470.5 L695.5,470.5 M693.5,407.5 L695.5,407.5 M693.5,345.5 L695.5,345.5 M693.5,283.5 L695.5,283.5 M693.5,220.5 L695.5,220.5 M693.5,158.5 L695.5,158.5 M693.5,95.5 L695.5,95.5 M693.5,33.5 L695.5,33.5" stroke="#d0d0d0" stroke-width="1"/>
<path d="M735.5,33 L735.5,657" stroke="#c0c0c0" stroke-width="1"/>
<text x="739.3" y="660.9" text-anchor="start" font-size="9.5" letter-spacing="0.5" fill="#303030">0</text>
<text x="739.3" y="598.5" text-anchor="start" font-size="9.5" letter-spacing="0.5" fill="#303030">10</text>
<text x="739.3" y="536.1" text-anchor="start" font-size="9.5" letter-spacing="0.5" fill="#303030">20</text>
<text x="739.3" y="473.7" text-anchor="start" font-size="9.5" letter-spacing="0.5" fill="#303030">30</text>
<text x="739.3" y="411.3" text-anchor="start" font-size="9.5" letter-spacing="0.5" fill="#303030">40</text>
<text x="739.3" y="348.9" text-anchor="start" font-size="9.5" letter-spacing="0.5" fill="#303030">50</text>
<text x="739.3" y="286.5" text-anchor="start" font-size="9.5" letter-spacing="0.5" fill="#303030">60</text>
<text x="739.3" y="224.1" text-anchor="start" font-size="9.5" letter-spacing="0.5" fill="#303030">70</text>
<text x="739.3" y="161.7" text-anchor="start" font-size="9.5" letter-spacing="0.5" fill="#303030">80</text>
<text x="739.3" y="99.3" text-anchor="start" font-size="9.5" letter-spacing="0.5" fill="#303030">90</text>
<text x="739.3" y="36.9" text-anchor="start" font-size="9.5" letter-spacing="0.5" fill="#303030">100</text>
<path d="M735.5,657.5 L737.5,657.5 M735.5,595.5 L737.5,595.5 M735.5,532.5 L737.5,532.5 M735.5,470.5 L737.5,470.5 M735.5,407.5 L737.5,407.5 M735.5,345.5 L737.5,345.5 M735.5,283.5 L737.5,283.5 M735.5,220.5 L737.5,220.5 M735.5,158.5 L737.5,158.5 M735.5,95.5 L737.5,95.5 M735.5,33.5 L737.5,33.5" stroke="#d0d0d0" stroke-width="1"/>
<text transform="translate(18.2,344.8) rotate(-90)" text-anchor="middle" font-size="10" textLength="55.5" lengthAdjust="spacingAndGlyphs" fill="#303030">Power factor</text>
<text transform="translate(54.2,345.1) rotate(-90)" text-anchor="middle" font-size="10" textLength="56" lengthAdjust="spacingAndGlyphs" fill="#303030">Efficiency (%)</text>
<text transform="translate(722.4,344.5) rotate(90)" text-anchor="middle" font-size="10" textLength="31.7" lengthAdjust="spacingAndGlyphs" fill="#303030">Slip (%)</text>
<text transform="translate(761.8,345.5) rotate(90)" text-anchor="middle" font-size="10" textLength="48.3" lengthAdjust="spacingAndGlyphs" fill="#303030">Current (A)</text>
<path d="M167.30,695.60 L173.50,701.80 L167.30,708.00 L161.10,701.80 Z" fill="#ff5555" stroke="#ff2a2a" stroke-width="1" />
<text x="176.5" y="704.9" font-size="10" fill="#474747">Efficiency</text>
<path d="M222,701.5 L234,701.5" stroke="#5a5aff" stroke-width="1.2"/>
<rect x="224.40" y="698.20" width="7.00" height="7.00" fill="#5555ff" stroke="#2f8a2f" stroke-width="1"/>
<text x="237" y="704.9" font-size="10" fill="#474747">Power factor</text>
<path d="M297.2,701.5 L309.2,701.5" stroke="#55ff55" stroke-width="1.2"/>
<circle cx="303.10" cy="701.70" r="3.60" fill="#55ff55" stroke="#ffaa33" stroke-width="1"/>
<text x="311.5" y="704.9" font-size="10" letter-spacing="0.15" fill="#474747">Slip</text>
<path d="M332,701.5 L344,701.5" stroke="#ffff55" stroke-width="1.2"/>
<path d="M338.30,695.80 L344.00,707.60 L332.60,707.60 Z" fill="#ffff55" stroke="#2a2ae6" stroke-width="1.1" stroke-linejoin="miter"/>
<text x="348.1" y="704.9" font-size="10" letter-spacing="0.15" fill="#474747">Current at 208 V</text>
<path d="M428,701.5 L440,701.5" stroke="#ff55ff" stroke-width="1.2"/>
<path d="M428.40,695.60 L439.80,695.60 L434.10,707.80 Z" fill="#ff55ff" stroke="#5c5cff" stroke-width="1"/>
<text x="443.8" y="704.9" font-size="10" letter-spacing="0.15" fill="#474747">Current at 230 V</text>
<path d="M524,703.2 L539,703.2" stroke="#55ffff" stroke-width="1.2"/>
<path d="M525.25,697.25 L537.15,709.15 M525.25,709.15 L537.15,697.25" stroke="#55ffff" stroke-width="4.80" fill="none" stroke-linecap="butt"/>
<text x="542.7" y="706" font-size="10" letter-spacing="0.15" fill="#474747">Current at 460 V</text>
</svg></body></html>
